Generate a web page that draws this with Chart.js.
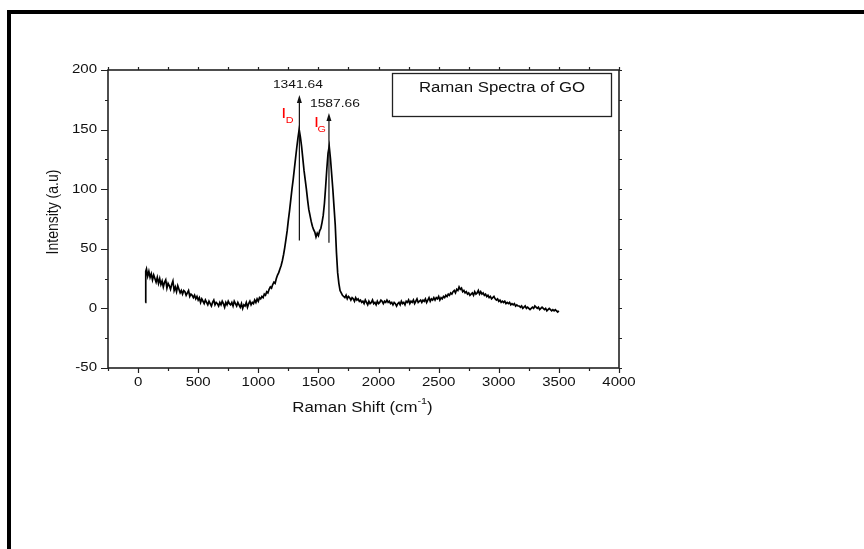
<!DOCTYPE html>
<html>
<head>
<meta charset="utf-8">
<script src="https://cdn.jsdelivr.net/npm/chart.js@4/dist/chart.umd.min.js"></script>
<style>
  html, body { margin: 0; padding: 0; background: #ffffff; }
  #wrap { width: 864px; height: 549px; position: relative; }
</style>
</head>
<body>
<div id="wrap"><canvas id="c" width="864" height="549"></canvas></div>
<script>
// Raman shift (cm^-1)
const shift = [
  60, 64,
  70, 80, 90, 100, 110, 120, 130, 140, 150, 160,
  170, 180, 190, 200, 210, 220, 230, 240, 250, 260,
  270, 280, 290, 300, 310, 320, 330, 340, 350, 360,
  370, 380, 390, 400, 410, 420, 430, 440, 450, 460,
  470, 480, 490, 500, 510, 520, 530, 540, 550, 560,
  570, 580, 590, 600, 610, 620, 630, 640, 650, 660,
  670, 680, 690, 700, 710, 720, 730, 740, 750, 760,
  770, 780, 790, 800, 810, 820, 830, 840, 850, 860,
  870, 880, 890, 900, 910, 920, 930, 940, 950, 960,
  970, 980, 990, 1000, 1010, 1020, 1030, 1040, 1050, 1060,
  1070, 1080, 1090, 1100, 1110, 1120, 1130, 1140, 1150, 1160,
  1170, 1180, 1190, 1200, 1210, 1220, 1230, 1240, 1250, 1260,
  1270, 1280, 1290, 1300, 1310, 1320, 1330, 1340, 1350, 1360,
  1370, 1380, 1390, 1400, 1410, 1420, 1430, 1440, 1450, 1460,
  1470, 1480, 1490, 1500, 1510, 1520, 1530, 1540, 1550, 1560,
  1570, 1580, 1590, 1600, 1610, 1620, 1630, 1640, 1650, 1660,
  1670, 1680, 1690, 1700, 1710, 1720, 1730, 1740, 1750, 1760,
  1770, 1780, 1790, 1800, 1810, 1820, 1830, 1840, 1850, 1860,
  1870, 1880, 1890, 1900, 1910, 1920, 1930, 1940, 1950, 1960,
  1970, 1980, 1990, 2000, 2010, 2020, 2030, 2040, 2050, 2060,
  2070, 2080, 2090, 2100, 2110, 2120, 2130, 2140, 2150, 2160,
  2170, 2180, 2190, 2200, 2210, 2220, 2230, 2240, 2250, 2260,
  2270, 2280, 2290, 2300, 2310, 2320, 2330, 2340, 2350, 2360,
  2370, 2380, 2390, 2400, 2410, 2420, 2430, 2440, 2450, 2460,
  2470, 2480, 2490, 2500, 2510, 2520, 2530, 2540, 2550, 2560,
  2570, 2580, 2590, 2600, 2610, 2620, 2630, 2640, 2650, 2660,
  2670, 2680, 2690, 2700, 2710, 2720, 2730, 2740, 2750, 2760,
  2770, 2780, 2790, 2800, 2810, 2820, 2830, 2840, 2850, 2860,
  2870, 2880, 2890, 2900, 2910, 2920, 2930, 2940, 2950, 2960,
  2970, 2980, 2990, 3000, 3010, 3020, 3030, 3040, 3050, 3060,
  3070, 3080, 3090, 3100, 3110, 3120, 3130, 3140, 3150, 3160,
  3170, 3180, 3190, 3200, 3210, 3220, 3230, 3240, 3250, 3260,
  3270, 3280, 3290, 3300, 3310, 3320, 3330, 3340, 3350, 3360,
  3370, 3380, 3390, 3400, 3410, 3420, 3430, 3440, 3450, 3460,
  3470, 3480, 3490, 3500
];

// Intensity (a.u)
const intensity = [
  5, 31,
  33, 27, 31, 26, 29, 24, 28, 25, 22, 26,
  21, 25, 20, 23, 18, 22, 24, 17, 21, 19,
  16, 20, 23, 15, 18, 14, 19, 16, 13, 15,
  12, 15, 14, 11, 13, 15, 10, 12, 11, 9,
  11, 8, 10, 7, 9, 5, 8, 6, 4, 7,
  5, 3, 6, 4, 2, 5, 7, 3, 5, 4,
  2, 5, 3, 6, 4, 1, 5, 3, 6, 4,
  3, 5, 2, 6, 4, 2, 5, 3, 1, 4,
  0, 3, 2, 5, 1, 4, 6, 3, 5, 4,
  7, 5, 8, 6, 9, 8, 10, 9, 12, 11,
  14, 13, 16, 18, 17, 20, 22, 21, 25, 28,
  30, 33, 36, 40, 45, 51, 58, 65, 74, 82,
  91, 100, 108, 117, 126, 135, 143, 150, 144, 136,
  126, 116, 108, 100, 91, 83, 78, 73, 69, 66,
  64, 60, 63, 61, 65, 67, 72, 78, 88, 102,
  117, 130, 136, 126, 113, 100, 85, 70, 47, 30,
  21, 15, 13, 11, 10, 9, 11, 8, 10, 9,
  7, 9, 8, 6, 9, 7, 8, 6, 7, 5,
  6, 4, 7, 5, 3, 6, 4, 5, 7, 4,
  5, 3, 6, 4, 5, 7, 6, 4, 6, 5,
  7, 5, 6, 4, 5, 3, 5, 4, 2, 4,
  5, 3, 6, 4, 5, 3, 6, 5, 7, 4,
  6, 5, 7, 4, 6, 8, 5, 6, 7, 5,
  7, 6, 8, 5, 7, 9, 6, 8, 7, 9,
  7, 9, 8, 10, 7, 9, 8, 10, 9, 11,
  10, 12, 11, 13, 12, 14, 15, 13, 16, 15,
  18, 16, 17, 14, 15, 13, 14, 12, 13, 11,
  12, 13, 11, 14, 12, 13, 15, 12, 14, 12,
  13, 11, 12, 10, 11, 9, 10, 8, 9, 10,
  8, 7, 8, 6, 7, 5, 6, 5, 6, 4,
  5, 4, 5, 3, 4, 3, 4, 2, 3, 2,
  2, 1, 2, 0, 1, 2, 0, 1, 0, -1,
  0, 1, 0, 2, 1, 0, 1, -1, 0, 1,
  0, -1, 0, -2, -1, 0, -1, -2, -1, -2,
  -1, -2, -3, -2
];

// Axis ranges and tick labels
const xRange = [-250, 4000];
const yRange = [-50, 200];
const xTickLabels = [0, 500, 1000, 1500, 2000, 2500, 3000, 3500, 4000];
const yTickLabels = [-50, 0, 50, 100, 150, 200];
const xMinorStep = 250;
const yMinorStep = 25;

// Peak markers: position, arrow foot and arrow tip (intensity), label
const peakShift = [1341.64, 1587.66];
const peakArrowFrom = [57, 55];
const peakArrowTo = [179, 164];
const peakLabels = ['1341.64', '1587.66'];
const bandNames = ['D', 'G'];

const legendText = 'Raman Spectra of GO';
const FONT = '"Liberation Sans", Arial, Helvetica, sans-serif';
const SX = 1.2; // horizontal text stretch of the figure

const points = shift.map((s, i) => ({ x: s, y: intensity[i] }));

function stext(ctx, str, x, y, size, align, color) {
  ctx.save();
  ctx.font = size + 'px ' + FONT;
  ctx.fillStyle = color || '#111';
  ctx.textBaseline = 'middle';
  ctx.textAlign = align;
  ctx.translate(x, y);
  ctx.scale(SX, 1);
  ctx.fillText(str, 0, 0);
  ctx.restore();
}
function twidth(ctx, str, size) {
  ctx.save();
  ctx.font = size + 'px ' + FONT;
  const w = ctx.measureText(str).width * SX;
  ctx.restore();
  return w;
}

const decor = {
  id: 'decor',
  afterDraw(chart) {
    const ctx = chart.ctx;
    const xs = chart.scales.x, ys = chart.scales.y;
    const a = chart.chartArea;
    ctx.save();

    // axis frame
    ctx.strokeStyle = '#222';
    ctx.lineWidth = 1.6;
    ctx.strokeRect(a.left, a.top, a.right - a.left, a.bottom - a.top);

    // ticks
    ctx.lineWidth = 1.2;
    ctx.beginPath();
    for (let v = yRange[0]; v <= yRange[1]; v += yMinorStep) {
      const py = Math.round(ys.getPixelForValue(v)) + 0.5;
      const major = v % 50 === 0;
      ctx.moveTo(a.left, py); ctx.lineTo(a.left - (major ? 7 : 3), py);
      ctx.moveTo(a.right, py); ctx.lineTo(a.right + 3, py);
    }
    for (let v = xRange[0]; v <= xRange[1]; v += xMinorStep) {
      const px = Math.round(xs.getPixelForValue(v)) + 0.5;
      const major = v % 500 === 0;
      ctx.moveTo(px, a.bottom); ctx.lineTo(px, a.bottom + (major ? 5 : 3));
      ctx.moveTo(px, a.top); ctx.lineTo(px, a.top - 3);
    }
    ctx.stroke();

    // tick labels
    yTickLabels.forEach(v => stext(ctx, String(v), a.left - 11, ys.getPixelForValue(v), 12.5, 'right', '#111'));
    xTickLabels.forEach(v => stext(ctx, String(v), xs.getPixelForValue(v), a.bottom + 15, 12.5, 'center', '#111'));

    // x title with superscript
    const cx = (a.left + a.right) / 2 - 1, ty = 408;
    const p1 = 'Raman Shift (cm', p2 = '-1', p3 = ')';
    const w1 = twidth(ctx, p1, 14), w2 = twidth(ctx, p2, 9), w3 = twidth(ctx, p3, 14);
    let sx0 = cx - (w1 + w2 + w3) / 2;
    stext(ctx, p1, sx0, ty, 14, 'left', '#111');
    stext(ctx, p2, sx0 + w1, ty - 6, 9, 'left', '#111');
    stext(ctx, p3, sx0 + w1 + w2, ty, 14, 'left', '#111');

    // y title (rotated)
    ctx.save();
    ctx.translate(53, (a.top + a.bottom) / 2 - 7);
    ctx.rotate(-Math.PI / 2);
    ctx.scale(1, SX);
    ctx.font = '14px ' + FONT;
    ctx.fillStyle = '#111';
    ctx.textAlign = 'center';
    ctx.textBaseline = 'middle';
    ctx.fillText('Intensity (a.u)', 0, 0);
    ctx.restore();

    // legend box
    ctx.strokeStyle = '#222';
    ctx.lineWidth = 1.3;
    ctx.strokeRect(392.5, 73.5, 219, 43);
    stext(ctx, legendText, 502, 88, 14, 'center', '#111');

    // peak arrows and labels
    ctx.strokeStyle = '#111';
    ctx.fillStyle = '#111';
    ctx.lineWidth = 1.2;
    peakShift.forEach((s, i) => {
      const px = xs.getPixelForValue(s);
      const y0 = ys.getPixelForValue(peakArrowFrom[i]);
      const y1 = ys.getPixelForValue(peakArrowTo[i]);
      ctx.beginPath();
      ctx.moveTo(px, y0); ctx.lineTo(px, y1 + 4);
      ctx.stroke();
      ctx.beginPath();
      ctx.moveTo(px, y1); ctx.lineTo(px - 2.5, y1 + 8); ctx.lineTo(px + 2.5, y1 + 8);
      ctx.closePath(); ctx.fill();
    });
    const p0 = xs.getPixelForValue(peakShift[0]);
    const pg = xs.getPixelForValue(peakShift[1]);
    stext(ctx, peakLabels[0], p0 - 1.5, 85, 11.5, 'center', '#111');
    stext(ctx, peakLabels[1], pg + 6, 104, 11.5, 'center', '#111');

    // band labels I_D and I_G
    stext(ctx, 'I', p0 - 18, 114, 15, 'left', '#ff0000');
    stext(ctx, bandNames[0], p0 - 13.5, 121, 9, 'left', '#ff0000');
    stext(ctx, 'I', pg - 15, 122.5, 15, 'left', '#ff0000');
    stext(ctx, bandNames[1], pg - 11.5, 129.5, 9, 'left', '#ff0000');

    // outer page frame
    ctx.fillStyle = '#000';
    ctx.fillRect(7, 10, 864 - 7, 4);
    ctx.fillRect(7, 10, 4, 549 - 10);

    ctx.restore();
  }
};

new Chart(document.getElementById('c'), {
  type: 'scatter',
  data: {
    datasets: [{
      data: points,
      showLine: true,
      borderColor: '#000',
      borderWidth: 1.7,
      pointRadius: 0,
      tension: 0,
      fill: false
    }]
  },
  options: {
    responsive: false,
    animation: false,
    devicePixelRatio: 1,
    layout: { padding: { left: 108, top: 70, right: 245, bottom: 181 } },
    plugins: { legend: { display: false }, tooltip: { enabled: false }, title: { display: false } },
    scales: {
      x: {
        type: 'linear', min: xRange[0], max: xRange[1],
        grid: { display: false }, border: { display: false },
        ticks: { display: false },
        afterFit(s) { s.height = 0; }
      },
      y: {
        type: 'linear', min: yRange[0], max: yRange[1],
        grid: { display: false }, border: { display: false },
        ticks: { display: false },
        afterFit(s) { s.width = 0; }
      }
    }
  },
  plugins: [decor]
});
</script>
</body>
</html>
